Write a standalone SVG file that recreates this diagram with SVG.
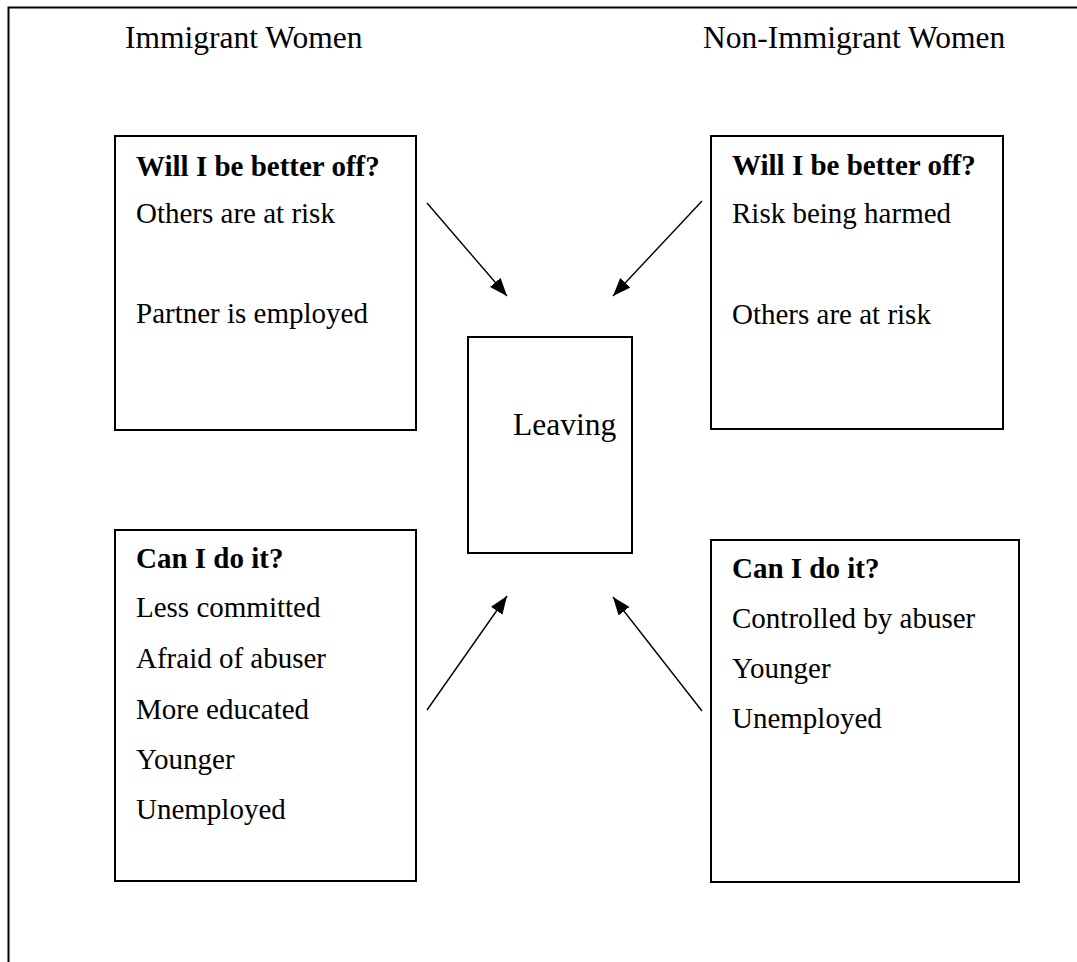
<svg xmlns="http://www.w3.org/2000/svg" width="1077" height="962" viewBox="0 0 1077 962">
<style>
text{font-family:"Liberation Serif","Times New Roman",serif;fill:#000}
.t{font-size:31.5px}
.b{font-size:29px}
.h{font-size:29px;font-weight:bold}
.box{fill:#fff;stroke:#000;stroke-width:2}
.c{stroke:#000;stroke-width:1.4;fill:none;marker-end:url(#ah)}
</style>
<defs>
<marker id="ah" markerUnits="userSpaceOnUse" markerWidth="20" markerHeight="16" refX="18" refY="7" orient="auto">
<path d="M0,0 L18,7 L0,14 Z" fill="#000"/>
</marker>
</defs>
<rect width="1077" height="962" fill="#fff"/>
<g id="frame">
<path d="M8.5,962 V7.5 H1077" fill="none" stroke="#000" stroke-width="2"/>
</g>
<g id="title-immigrant"><text class="t" x="125" y="48">Immigrant Women</text></g>
<g id="title-nonimmigrant"><text class="t" x="703" y="48">Non-Immigrant Women</text></g>
<g id="box-tl">
<rect class="box" x="115" y="136" width="301" height="294"/>
<text class="h" x="136" y="176">Will I be better off?</text>
<text class="b" x="136" y="223">Others are at risk</text>
<text class="b" x="136" y="323">Partner is employed</text>
</g>
<g id="box-tr">
<rect class="box" x="711" y="136" width="292" height="293"/>
<text class="h" x="732" y="175">Will I be better off?</text>
<text class="b" x="732" y="223">Risk being harmed</text>
<text class="b" x="732" y="324">Others are at risk</text>
</g>
<g id="box-center">
<rect class="box" x="468" y="337" width="164" height="216"/>
<text class="t" x="513" y="435">Leaving</text>
</g>
<g id="box-bl">
<rect class="box" x="115" y="530" width="301" height="351"/>
<text class="h" x="136" y="568">Can I do it?</text>
<text class="b" x="136" y="617">Less committed</text>
<text class="b" x="136" y="668">Afraid of abuser</text>
<text class="b" x="136" y="719">More educated</text>
<text class="b" x="136" y="769">Younger</text>
<text class="b" x="136" y="819">Unemployed</text>
</g>
<g id="box-br">
<rect class="box" x="711" y="540" width="308" height="342"/>
<text class="h" x="732" y="578">Can I do it?</text>
<text class="b" x="732" y="628">Controlled by abuser</text>
<text class="b" x="732" y="678">Younger</text>
<text class="b" x="732" y="728">Unemployed</text>
</g>
<g id="connectors">
<line class="c" x1="427" y1="203" x2="507" y2="296"/>
<line class="c" x1="702" y1="201" x2="613" y2="296"/>
<line class="c" x1="427" y1="710" x2="507" y2="596"/>
<line class="c" x1="702" y1="711" x2="613" y2="597"/>
</g>
</svg>
